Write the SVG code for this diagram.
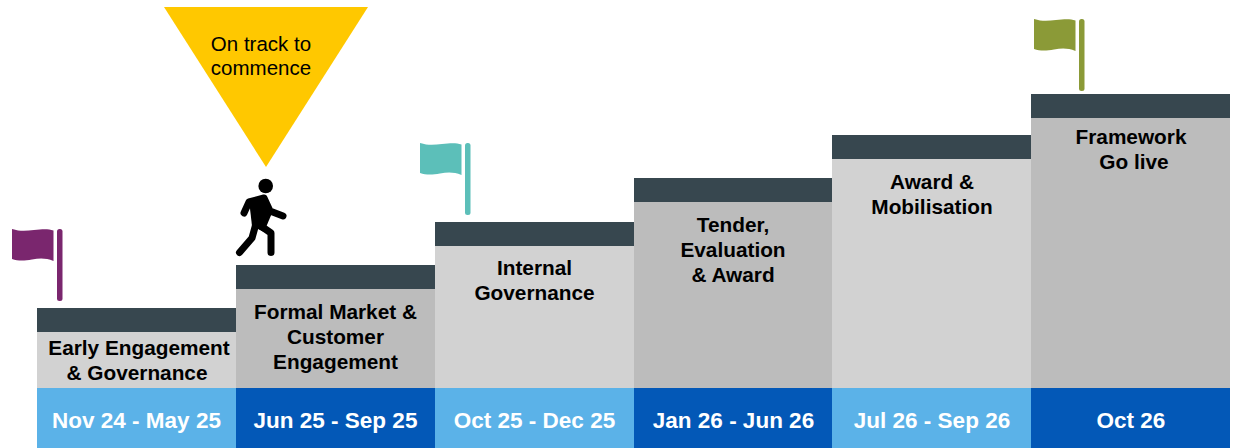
<svg xmlns="http://www.w3.org/2000/svg" width="1233" height="448" viewBox="0 0 1233 448">
<defs>
<g id="flag"><path d="M0 0C8 2.500 14 2 22 1C30 0 36 -0.500 41.500 1.500L41.500 32C34 29 28 29 20 30.500C12 32 6 32 0 30Z"/><rect x="45" y="0" width="5.500" height="72" rx="2.500"/></g>
</defs>
<style>
text{font-family:"Liberation Sans",Arial,sans-serif;text-anchor:middle}
.t{font-size:20.800px;font-weight:700;fill:#000}
.d{font-size:22.500px;font-weight:700;fill:#fff}
.h{fill:#37474f}.l{fill:#d2d2d2}.g{fill:#bcbcbc}.a{fill:#5bb2e8}.b{fill:#0358b7}
</style>
<rect width="1233" height="448" fill="#fff"/>
<g id="step1"><rect class="h" x="37" y="308" width="199" height="24"/><rect class="l" x="37" y="332" width="199" height="56"/><rect class="a" x="37" y="388" width="199" height="60"/>
<text class="t" x="139" y="355">Early Engagement</text><text class="t" x="137" y="380">&amp; Governance</text><text class="d" x="136.500" y="428">Nov 24 - May 25</text></g>
<g id="step2"><rect class="h" x="236" y="265" width="199" height="24"/><rect class="g" x="236" y="289" width="199" height="99"/><rect class="b" x="236" y="388" width="199" height="60"/>
<text class="t" x="335.500" y="319">Formal Market &amp;</text><text class="t" x="335.500" y="344">Customer</text><text class="t" x="335.500" y="369">Engagement</text><text class="d" x="335.500" y="428">Jun 25 - Sep 25</text></g>
<g id="step3"><rect class="h" x="435" y="222" width="199" height="24"/><rect class="l" x="435" y="246" width="199" height="142"/><rect class="a" x="435" y="388" width="199" height="60"/>
<text class="t" x="534.500" y="275">Internal</text><text class="t" x="534.500" y="300">Governance</text><text class="d" x="534.500" y="428">Oct 25 - Dec 25</text></g>
<g id="step4"><rect class="h" x="634" y="178" width="199" height="24"/><rect class="g" x="634" y="202" width="199" height="186"/><rect class="b" x="634" y="388" width="199" height="60"/>
<text class="t" x="733" y="232">Tender,</text><text class="t" x="733" y="257">Evaluation</text><text class="t" x="733" y="282">&amp; Award</text><text class="d" x="733.500" y="428">Jan 26 - Jun 26</text></g>
<g id="step5"><rect class="h" x="832" y="135" width="199" height="24"/><rect class="l" x="832" y="159" width="199" height="229"/><rect class="a" x="832" y="388" width="199" height="60"/>
<text class="t" x="932" y="189">Award &amp;</text><text class="t" x="932" y="214">Mobilisation</text><text class="d" x="932" y="428">Jul 26 - Sep 26</text></g>
<g id="step6"><rect class="h" x="1031" y="94" width="199" height="24"/><rect class="g" x="1031" y="118" width="199" height="270"/><rect class="b" x="1031" y="388" width="199" height="60"/>
<text class="t" x="1131" y="144">Framework</text><text class="t" x="1134" y="169">Go live</text><text class="d" x="1131" y="428">Oct 26</text></g>
<g id="flag1"><use href="#flag" x="12" y="229" fill="#7a266e"/></g>
<g id="flag2"><use href="#flag" x="420" y="143" fill="#5cbfb9"/></g>
<g id="flag3"><use href="#flag" x="1034" y="19" fill="#8b9a37"/></g>
<g id="callout"><path d="M164 7H368L266 167Z" fill="#ffc800"/><text x="261" y="50.500" font-size="20.500px" fill="#000">On track to</text><text x="261" y="74.500" font-size="20.500px" fill="#000">commence</text></g>
<g id="walker"><circle cx="265.700" cy="186" r="7.300"/><g fill="none" stroke="#000" stroke-width="7" stroke-linecap="round" stroke-linejoin="round"><path d="M244 213L249 202L264 198L270 211L283 216"/><path d="M239.500 252.500L252 238L257 220"/><path d="M271 252.500V233L258 224"/></g><path d="M249 200L266 195L272 213L264 232L252 226Z"/></g>
</svg>
